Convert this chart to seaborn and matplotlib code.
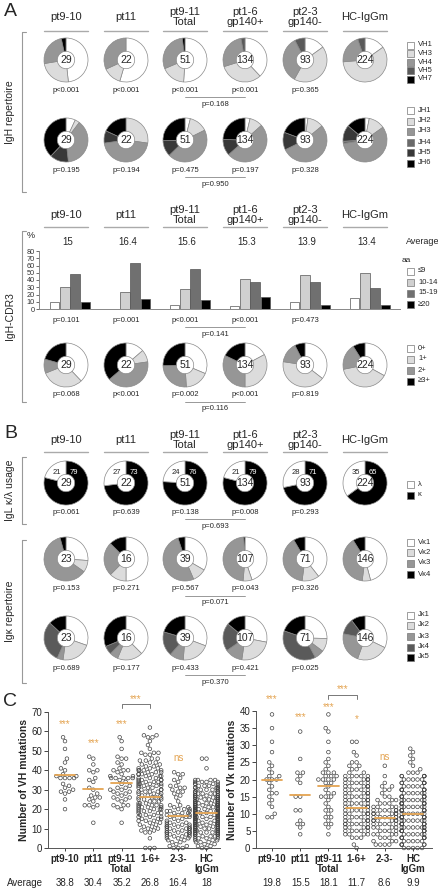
import numpy as np
import pandas as pd
import matplotlib
matplotlib.use('Agg')
import matplotlib.pyplot as plt
import matplotlib.transforms as mtransforms
from matplotlib.patches import Rectangle
import seaborn as sns

sns.set_style('ticks')
plt.rcParams['font.family'] = ['Liberation Sans', 'DejaVu Sans']

W, H = 439, 892

# ---------------- data ----------------
headers = ['pt9-10', 'pt11', 'pt9-11\nTotal', 'pt1-6\ngp140+', 'pt2-3\ngp140-', 'HC-IgGm']
groups = ['pt9-10', 'pt11', 'pt9-11', '1-6+', '2-3-', 'HC']
heavy_n = [29, 22, 51, 134, 93, 224]
light_n = [29, 22, 51, 134, 93, 224]
kappa_n = [23, 16, 39, 107, 71, 146]

vh_labels = ['VH1', 'VH3', 'VH4', 'VH5', 'VH7']
vh_counts = [[14, 7, 7, 0, 1], [12, 3, 7, 0, 0], [26, 9, 15, 0, 1],
             [51, 43, 36, 4, 0], [14, 40, 32, 7, 0], [34, 131, 47, 12, 0]]
vh_p = ['p<0.001', 'p<0.001', 'p<0.001', 'p<0.001', 'p=0.365']
vh_p_cmp = 'p=0.168'

jh_labels = ['JH1', 'JH2', 'JH3', 'JH4', 'JH5', 'JH6']
jh_counts = [[2, 1, 11, 0, 4, 11], [0, 6, 10, 0, 2, 4], [2, 7, 23, 0, 6, 13],
             [5, 13, 67, 0, 16, 33], [2, 11, 50, 0, 12, 18], [7, 27, 128, 4, 27, 31]]
jh_p = ['p=0.195', 'p=0.194', 'p=0.475', 'p=0.197', 'p=0.328']
jh_p_cmp = 'p=0.950'

cdr3_avg = ['15', '16.4', '15.6', '15.3', '13.9', '13.4']
aa_labels = ['≤9', '10-14', '15-19', '≥20']
cdr3_le9 = [10, 0, 6, 4, 10, 15]
cdr3_10_14 = [31, 23, 27, 41, 47, 50]
cdr3_15_19 = [48, 64, 55, 37, 37, 29]
cdr3_ge20 = [10, 14, 12, 17, 6, 6]
cdr3_p = ['p=0.101', 'p=0.001', 'p<0.001', 'p<0.001', 'p=0.473']
cdr3_p_cmp = 'p=0.141'

charge_labels = ['0+', '1+', '2+', '≥3+']
charge_counts = [[11, 9, 3, 6], [3, 2, 9, 8], [16, 9, 13, 13],
                 [23, 44, 43, 24], [33, 39, 14, 7], [74, 87, 43, 20]]
charge_p = ['p=0.068', 'p<0.001', 'p=0.002', 'p<0.001', 'p=0.819']
charge_p_cmp = 'p=0.116'

kappa_pct = [79, 73, 76, 79, 71, 65]
lambda_pct = [21, 27, 24, 21, 28, 35]
kl_p = ['p=0.061', 'p=0.639', 'p=0.138', 'p=0.008', 'p=0.293']
kl_p_cmp = 'p=0.693'

vk_labels = ['Vκ1', 'Vκ2', 'Vκ3', 'Vκ4']
vk_counts = [[6, 2, 14, 1], [8, 2, 4, 2], [13, 4, 20, 2],
             [48, 7, 51, 1], [28, 9, 28, 6], [67, 9, 57, 13]]
vk_p = ['p=0.153', 'p=0.271', 'p=0.567', 'p=0.043', 'p=0.326']
vk_p_cmp = 'p=0.071'

jk_labels = ['Jκ1', 'Jκ2', 'Jκ3', 'Jκ4', 'Jκ5']
jk_counts = [[7, 5, 1, 7, 3], [6, 3, 1, 1, 5], [12, 8, 4, 7, 8],
             [30, 26, 14, 22, 15], [18, 7, 5, 27, 14], [47, 34, 33, 17, 15]]
jk_p = ['p=0.689', 'p=0.177', 'p=0.433', 'p=0.421', 'p=0.025']
jk_p_cmp = 'p=0.370'

# panel C - VH mutations
vh_mut_pt910 = [57, 55, 51, 46, 44, 41, 40, 38, 37, 37, 36, 36, 36, 36, 33, 32, 31, 30, 29, 29, 28, 25, 20]
vh_mut_pt11 = [47, 46, 43, 40, 40, 39, 36, 35, 34, 31, 30, 28, 27, 26, 26, 25, 24, 22, 22, 22, 21, 13]
vh_mut_16_vals = [62, 58, 57, 55, 53, 51, 49, 48, 46, 45, 44, 43, 42, 41, 40, 39, 38, 37, 36, 35, 34, 33, 32,
                  31, 30, 29, 28, 27, 26, 25, 24, 23, 22, 21, 20, 19, 18, 17, 16, 15, 14, 13, 12, 11, 10, 9, 8, 5, 0]
vh_mut_16_cnts = [1, 2, 2, 1, 1, 1, 3, 2, 2, 2, 2, 2, 2, 3, 4, 3, 4, 3, 3, 4, 4, 4, 4,
                  3, 3, 4, 3, 3, 4, 3, 3, 3, 4, 4, 4, 3, 3, 3, 3, 3, 3, 2, 2, 2, 2, 2, 2, 1, 3]
vh_mut_23_vals = [39, 38, 36, 35, 34, 32, 31, 30, 29, 28, 27, 26, 24, 22, 21, 20, 19, 18, 17, 16, 15, 14,
                  13, 12, 11, 10, 9, 8, 7, 6, 5, 4, 3, 2, 1, 0]
vh_mut_23_cnts = [1, 2, 1, 1, 1, 2, 2, 1, 2, 1, 1, 1, 1, 2, 2, 3, 3, 3, 3, 3, 2, 2,
                  3, 4, 4, 5, 4, 5, 4, 4, 3, 2, 2, 1, 2, 3]
vh_mut_hc_vals = [46, 41, 35, 34, 33, 32, 31, 30, 29, 28, 27, 26, 25, 24, 23, 22, 21, 20, 19, 18, 17, 16,
                  15, 14, 13, 12, 11, 10, 9, 8, 7, 6, 5, 4, 3, 2, 1, 0]
vh_mut_hc_cnts = [2, 1, 4, 4, 4, 4, 5, 5, 5, 6, 6, 7, 7, 7, 7, 8, 8, 8, 8, 9, 8, 8,
                  8, 8, 8, 8, 8, 8, 8, 8, 6, 5, 4, 3, 3, 2, 2, 2]
vh_avg = ['38.8', '30.4', '35.2', '26.8', '16.4', '18']
vh_line = [37.5, 30.5, 33.7, 26.5, 16.5, 18.2]

# panel C - Vk mutations
vk_mut_pt910 = [39, 35, 31, 28, 25, 24, 23, 22, 21, 21, 20, 20, 20, 19, 18, 17, 16, 16, 15, 14, 13, 12, 10, 9, 9]
vk_mut_pt11 = [34, 26, 22, 22, 21, 20, 19, 15, 15, 11, 11, 8, 7, 7, 6, 4]
vk_mut_16_vals = [31, 28, 27, 25, 24, 23, 22, 21, 20, 19, 18, 17, 16, 15, 14, 13, 12, 11, 10, 9, 8, 7, 6, 5, 4, 3, 1, 0]
vk_mut_16_cnts = [2, 1, 1, 2, 2, 2, 2, 5, 5, 5, 5, 5, 5, 5, 5, 5, 5, 5, 5, 5, 5, 6, 5, 5, 4, 3, 1, 1]
vk_mut_23_vals = [24, 21, 19, 18, 17, 16, 15, 14, 13, 12, 11, 10, 9, 8, 7, 6, 5, 4, 3, 2, 1]
vk_mut_23_cnts = [1, 1, 1, 2, 2, 1, 2, 3, 3, 4, 6, 6, 6, 6, 5, 4, 4, 4, 3, 3, 4]
vk_mut_hc_vals = [29, 28, 27, 26, 25, 24, 23, 22, 21, 20, 19, 18, 17, 16, 15, 14, 13, 12, 11, 10, 9, 8, 7,
                  6, 5, 4, 3, 2, 1, 0]
vk_mut_hc_cnts = [1, 1, 1, 1, 1, 1, 1, 3, 5, 5, 5, 5, 6, 6, 6, 7, 7, 7, 7, 7, 7, 7, 7,
                  8, 7, 6, 6, 5, 5, 5]
vk_avg = ['19.8', '15.5', '18.1', '11.7', '8.6', '9.9']
vk_line = [19.8, 15.5, 18.0, 11.7, 8.7, 10.0]

# ---------------- styling ----------------
pie_x = [66, 126, 185, 245, 305, 365]
R, R_IN = 22, 8.7
EDGE = '#8a8a8a'
ORANGE = '#E4A452'
grays5 = ['white', '#dcdcdc', '#969696', '#5a5a5a', 'black']
grays6 = ['white', '#dcdcdc', '#969696', '#6a6a6a', '#383838', 'black']
grays4 = ['white', '#dcdcdc', '#969696', 'black']
bar_cols = ['white', '#d0d0d0', '#707070', 'black']

fig = plt.figure(figsize=(W / 100, H / 100), dpi=100)
canvas = fig.add_axes([0, 0, 1, 1])
canvas.set_zorder(0)


def Y(y):
    return H - y


def pie_row(counts, colors, cy, numbers):
    for cx, vals, n in zip(pie_x, counts, numbers):
        v = [a for a in vals if a > 0]
        c = [col for a, col in zip(vals, colors) if a > 0]
        canvas.pie(v, colors=c, startangle=90, counterclock=False, radius=R,
                   center=(cx, Y(cy)), frame=True,
                   wedgeprops=dict(width=R - R_IN, edgecolor=EDGE, linewidth=0.5))
        canvas.text(cx, Y(cy), str(n), ha='center', va='center', fontsize=7.5)


def p_row(pvals, cmp_text, y):
    for cx, p in zip(pie_x, pvals):
        canvas.text(cx, Y(y), p, ha='center', va='center', fontsize=5.5)
    canvas.plot([pie_x[2], pie_x[3]], [Y(y + 7), Y(y + 7)], color='#888', lw=0.6)
    canvas.text((pie_x[2] + pie_x[3]) / 2, Y(y + 14), cmp_text, ha='center', va='center', fontsize=5.5)


def header_row(y_text, y_line):
    for cx, h in zip(pie_x, headers):
        canvas.text(cx, Y(y_text), h, ha='center', va='center', fontsize=8, linespacing=1.0)
        canvas.plot([cx - 22, cx + 22], [Y(y_line), Y(y_line)], color='#aaa', lw=1)


def legend(labels, colors, ys, x=407):
    for lab, col, y in zip(labels, colors, ys):
        canvas.add_patch(Rectangle((x, Y(y) - 3.5), 7, 7, facecolor=col, edgecolor='#777', lw=0.5))
        canvas.text(x + 11, Y(y), lab, ha='left', va='center', fontsize=5.5)


def bracket(label, top, bottom):
    canvas.plot([26, 22, 22, 26], [Y(top), Y(top), Y(bottom), Y(bottom)], color='#999', lw=0.8)
    canvas.text(10, Y((top + bottom) / 2), label, rotation=90, ha='center', va='center', fontsize=7.5)


# ---- panel A ----
canvas.text(4, Y(12), 'A', fontsize=14, ha='left', va='center')
header_row(17, 31)
pie_row(vh_counts, grays5, 60, heavy_n)
p_row(vh_p, vh_p_cmp, 90)
legend(vh_labels, grays5, [45, 53.5, 62, 70.5, 79])
pie_row(jh_counts, grays6, 140, heavy_n)
p_row(jh_p, jh_p_cmp, 170)
legend(jh_labels, grays6, [110, 121, 131, 142, 152, 163])
bracket('IgH repertoire', 32, 192)

header_row(215, 227)
canvas.text(31, Y(236), '%', ha='center', va='center', fontsize=6.5)
for cx, a in zip(pie_x, cdr3_avg):
    canvas.text(cx + 2, Y(242), a, ha='center', va='center', fontsize=7)
canvas.text(406, Y(242), 'Average', ha='left', va='center', fontsize=6.5)
canvas.text(402, Y(260), 'aa', ha='left', va='center', fontsize=6)
legend(aa_labels, bar_cols, [271, 282, 293, 304])
p_row(cdr3_p, cdr3_p_cmp, 320)
pie_row(charge_counts, grays4, 365, heavy_n)
p_row(charge_p, charge_p_cmp, 395)
legend(charge_labels, grays4, [348, 359, 370, 381])
bracket('IgH-CDR3', 231, 402)

# ---- panel B ----
canvas.text(4, Y(434), 'B', fontsize=14, ha='left', va='center')
header_row(440, 452)
kl_counts = [[k, l] for k, l in zip(kappa_pct, lambda_pct)]
pie_row(kl_counts, ['black', 'white'], 483, light_n)
for cx, k, l in zip(pie_x, kappa_pct, lambda_pct):
    canvas.text(cx - 9, Y(472), str(l), ha='center', va='center', fontsize=5.5)
    canvas.text(cx + 8, Y(472), str(k), ha='center', va='center', fontsize=5.5, color='white')
p_row(kl_p, kl_p_cmp, 512)
legend(['λ', 'κ'], ['white', 'black'], [484, 495])
bracket('IgL κ/λ usage', 457, 524)

pie_row(vk_counts, grays4, 559, kappa_n)
p_row(vk_p, vk_p_cmp, 589)
legend(vk_labels, grays4, [542, 552, 563, 574])
pie_row(jk_counts, grays5, 638, kappa_n)
p_row(jk_p, jk_p_cmp, 668)
legend(jk_labels, grays5, [615, 625, 636, 647, 657])
bracket('Igκ repertoire', 540, 683)

canvas.text(3, Y(702), 'C', fontsize=14, ha='left', va='center')

canvas.set_xlim(0, W)
canvas.set_ylim(0, H)
canvas.set_aspect('auto')
canvas.axis('off')


def add_px_axes(l, r, t, b):
    ax = fig.add_axes([l / W, 1 - b / H, (r - l) / W, (b - t) / H])
    ax.set_facecolor('none')
    return ax


# ---- CDR3 bar chart ----
bar_df = pd.DataFrame({
    'group': groups * 4,
    'aa': np.repeat(aa_labels, 6),
    'pct': cdr3_le9 + cdr3_10_14 + cdr3_15_19 + cdr3_ge20,
})
bax = add_px_axes(39, 400, 251, 309)
sns.barplot(data=bar_df, x='group', y='pct', hue='aa', order=groups, hue_order=aa_labels,
            palette=bar_cols, width=0.69, gap=0.04, edgecolor='#555', linewidth=0.5,
            legend=False, ax=bax)
bax.set_xlim((39 - 70) / 60, (400 - 70) / 60)
bax.set_ylim(0, 80)
bax.set_yticks(range(0, 81, 10))
bax.tick_params(axis='y', labelsize=5.3, length=2, pad=1, width=0.6, colors='#555', labelcolor='#333')
bax.set_xticks([])
bax.set_xlabel('')
bax.set_ylabel('')
for s in ['top', 'right']:
    bax.spines[s].set_visible(False)
for s in ['left', 'bottom']:
    bax.spines[s].set_color('#888')
    bax.spines[s].set_linewidth(0.7)


# ---- panel C swarms ----
def mut_frame(pt910, pt11, v16, c16, v23, c23, vhc, chc):
    vals = [pt910, pt11, pt910 + pt11,
            list(np.repeat(v16, c16)), list(np.repeat(v23, c23)), list(np.repeat(vhc, chc))]
    return pd.DataFrame({'group': np.concatenate([[g] * len(v) for g, v in zip(groups, vals)]),
                         'value': np.concatenate(vals)})


vh_df = mut_frame(vh_mut_pt910, vh_mut_pt11, vh_mut_16_vals, vh_mut_16_cnts,
                  vh_mut_23_vals, vh_mut_23_cnts, vh_mut_hc_vals, vh_mut_hc_cnts)
vk_df = mut_frame(vk_mut_pt910, vk_mut_pt11, vk_mut_16_vals, vk_mut_16_cnts,
                  vk_mut_23_vals, vk_mut_23_cnts, vk_mut_hc_vals, vk_mut_hc_cnts)

tick_labels = ['pt9-10', 'pt11', 'pt9-11\nTotal', '1-6+', '2-3-', 'HC\nIgGm']


def swarm_panel(ax, df, ymax, ystep, xlim, ylabel, lines, avgs, stars, bracket_y):
    sns.swarmplot(data=df, x='group', y='value', order=groups, size=2.6, ax=ax, warn_thresh=1)
    for coll in ax.collections:
        coll.set_facecolor('none')
        coll.set_edgecolor('#444')
        coll.set_linewidth(0.5)
        coll.set_clip_on(False)
    for i, m in enumerate(lines):
        ax.plot([i - 0.36, i + 0.36], [m, m], color=ORANGE, lw=1.3, zorder=5)
    ax.set_xlim(*xlim)
    ax.set_ylim(0, ymax)
    ax.set_yticks(range(0, ymax + 1, ystep))
    ax.set_xticks(range(6))
    ax.set_xticklabels(tick_labels, fontsize=7, fontweight='bold', linespacing=1.0)
    ax.tick_params(axis='x', length=2, pad=2, width=0.6)
    ax.tick_params(axis='y', labelsize=7, length=3, pad=1, width=0.6)
    ax.set_xlabel('')
    ax.set_ylabel(ylabel, fontsize=7.5, fontweight='bold', labelpad=2)
    for s in ['top', 'right']:
        ax.spines[s].set_visible(False)
    for s in ['left', 'bottom']:
        ax.spines[s].set_color('#555')
        ax.spines[s].set_linewidth(0.7)
    for i, (txt, y) in enumerate(stars):
        if txt:
            ax.text(i, y, txt, ha='center', va='center', color=ORANGE, fontsize=7, clip_on=False)
    by, sy = bracket_y
    ax.plot([2, 2, 3, 3], [by - 2.2 * ymax / 70 * 0.9, by, by, by - 2.2 * ymax / 70 * 0.9],
            color='#777', lw=0.7, clip_on=False)
    ax.text(2.5, sy, '***', ha='center', va='center', color=ORANGE, fontsize=7, clip_on=False)
    tr = mtransforms.blended_transform_factory(ax.transData, fig.transFigure)
    for i, a in enumerate(avgs):
        ax.text(i, 1 - 883 / H, a, transform=tr, ha='center', va='center', fontsize=7)


axl = add_px_axes(48, 220, 712, 848)
swarm_panel(axl, vh_df, 70, 10, ((48 - 65) / 28.3, (220 - 65) / 28.3), 'Number of VH mutations',
            vh_line, vh_avg,
            [('***', 63.6), ('***', 54), ('***', 63.6), ('', 0), ('ns', 46.5), ('', 0)],
            (74, 76.5))
axr = add_px_axes(256, 432, 711, 848)
swarm_panel(axr, vk_df, 40, 5, ((256 - 272) / 28.2, (432 - 272) / 28.2), 'Number of Vk mutations',
            vk_line, vk_avg,
            [('***', 43.5), ('***', 38.3), ('***', 41.2), ('*', 37.7), ('ns', 26.7), ('', 0)],
            (44.7, 46.3))
canvas.text(7, Y(883), 'Average', ha='left', va='center', fontsize=7)

fig.savefig('out.png', dpi=100)
